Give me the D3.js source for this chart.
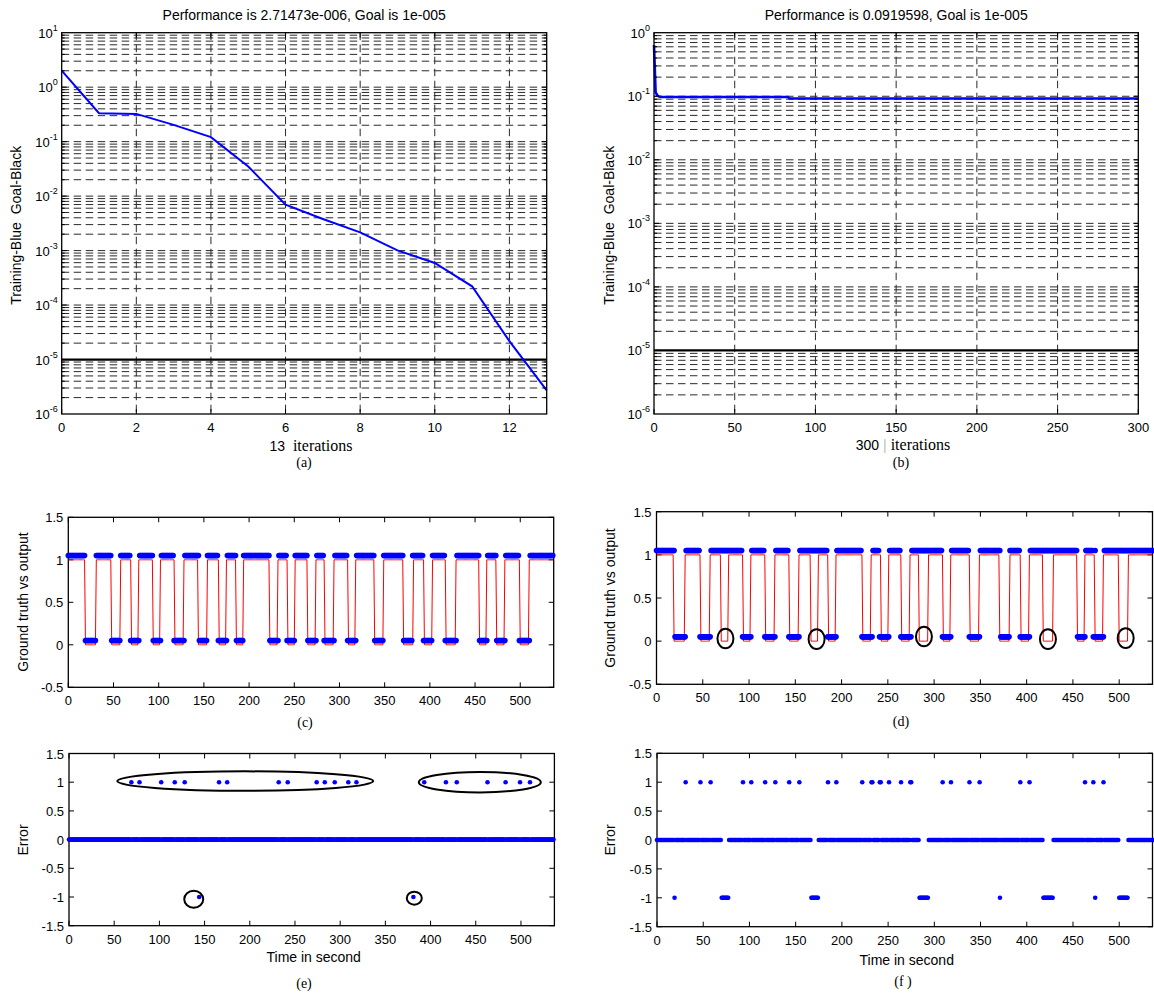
<!DOCTYPE html>
<html><head><meta charset="utf-8">
<script src="https://cdn.jsdelivr.net/npm/d3@7"></script>
<style>
body{margin:0;background:#fff}
svg text{font-family:"Liberation Sans",Arial,sans-serif;fill:#000}
.serif{font-family:"Liberation Serif","Times New Roman",serif}
</style>
</head><body>
<svg id="fig" width="1154" height="994"></svg>
<script>
// ---------------- DATA ----------------
// (a) training performance, 13 iterations
const iterA = [0,1,2,3,4,5,6,7,8,9,10,11,12,13];
const perfA = [2.01,0.333,0.323,0.203,0.121,0.035,0.00695,0.0038,0.00216,0.00101,0.000593,0.000221,2.17e-5,2.71473e-6];
const goalA = 1e-5;
const xTicksA = [0,2,4,6,8,10,12];
const titleA = "Performance is 2.71473e-006, Goal is 1e-005";
// (b) training performance, 300 iterations
const iterB = [0,1,2,3,5,83,84,300];
const perfB = [0.64,0.115,0.104,0.099,0.0975,0.0972,0.0925,0.0919598];
const goalB = 1e-5;
const xTicksB = [0,50,100,150,200,250,300];
const titleB = "Performance is 0.0919598, Goal is 1e-005";
// time samples (seconds)
const lastSample = 536;
// ground truth: intervals where truth = 0 (else 1)
const truthLow = [[19,30],[48,57],[70,77],[94,101],[118,127],[144,153],[167,174],[186,193],[223,231],[243,250],[265,273],[284,293],[310,317],[339,348],[371,381],[394,402],[418,428],[455,462],[474,482],[500,509]];
// output levels as plotted
const outHigh = 1.05, outLow = 0.05;
// (c) output low intervals
const outCLow = [[19,30],[48,57],[69,78],[94,102],[117,128],[145,153],[166,175],[186,193],[223,232],[242,250],[265,274],[283,294],[309,318],[339,348],[371,380],[393,402],[417,429],[455,463],[474,483],[499,510]];
// (d) output low intervals
const outDLow = [[20,31],[47,58],[93,102],[117,128],[143,154],[185,194],[222,233],[241,251],[264,275],[309,318],[338,349],[372,381],[393,403],[455,463],[472,473],[475,483]];
// (e) error samples
const errEUp = [69,78,102,117,128,166,175,232,242,274,283,294,309,318,393,417,429,463,483,499,510];
const errEDown = [144,381];
// (f) error samples
const errFUp = [31,47,58,93,102,117,128,143,154,185,194,222,232,233,241,242,251,264,274,275,309,318,338,349,393,403,463,472,483];
const errFDown = [[19,19],[70,77],[167,174],[284,293],[371,371],[418,428],[474,474],[500,509]];
const xTicksT = [0,50,100,150,200,250,300,350,400,450,500];
const yTicksCD = [-0.5,0,0.5,1,1.5];
const yTicksEF = [-1.5,-1,-0.5,0,0.5,1,1.5];
// annotation marks (data coords)
const markE = [[195,1.02],[454.5,1.0],[138,-1.04],[382,-1.02]];
const markD = [[74.5,0.031],[173,0.023],[289,0.054],[423,0.023],[507,0.035]];

// ---------------- DRAW ----------------
const svg = d3.select("#fig");
const fmt = v => String(v);
const inAny = (t, iv) => iv.some(([a,b]) => t>=a && t<=b);
const samples = d3.range(0, lastSample+1);
const NB = "\u00a0";

function box(g, x0,x1,y0,y1){
  g.append("rect").attr("x",x0).attr("y",y0).attr("width",x1-x0).attr("height",y1-y0)
   .attr("fill","none").attr("stroke","#000").attr("stroke-width",1.3);
}

function logPanel(o){
  const g = svg.append("g");
  const x = d3.scaleLinear().domain(o.xd).range([o.x0,o.x1]);
  const y = d3.scaleLog().domain(o.yd).range([o.y1,o.y0]);
  const e0 = Math.round(Math.log10(o.yd[0])), e1 = Math.round(Math.log10(o.yd[1]));
  const minor = [];
  for(let e=e0;e<e1;e++) for(let k=1;k<=9;k++){ const v=k*Math.pow(10,e); if(!(k===1&&e===e0)) minor.push(v); }
  g.selectAll(null).data(minor).enter().append("line")
    .attr("x1",o.x0).attr("x2",o.x1).attr("y1",d=>y(d)).attr("y2",d=>y(d))
    .attr("stroke","#2a2a2a").attr("stroke-width",1).attr("stroke-dasharray","7.5,4.5");
  g.selectAll(null).data(o.xt.filter(v=>v>o.xd[0]&&v<o.xd[1])).enter().append("line")
    .attr("x1",d=>x(d)).attr("x2",d=>x(d)).attr("y1",o.y0).attr("y2",o.y1)
    .attr("stroke","#2a2a2a").attr("stroke-width",1).attr("stroke-dasharray","7.5,4.5");
  g.append("line").attr("x1",o.x0).attr("x2",o.x1).attr("y1",y(o.goal)).attr("y2",y(o.goal))
    .attr("stroke","#000").attr("stroke-width",2.2);
  g.append("path").datum(o.it.map((v,i)=>[v,o.pf[i]]))
    .attr("d", d3.line().x(d=>x(d[0])).y(d=>y(d[1])))
    .attr("fill","none").attr("stroke","#0000ff").attr("stroke-width",o.lw);
  box(g,o.x0,o.x1,o.y0,o.y1);
  g.selectAll(null).data(o.xt).enter().append("path")
    .attr("d",d=>`M${x(d)},${o.y1}v-5M${x(d)},${o.y0}v5`).attr("stroke","#000").attr("stroke-width",1);
  g.selectAll(null).data(minor).enter().append("path")
    .attr("d",d=>{const L=(Math.abs(Math.log10(d)-Math.round(Math.log10(d)))<1e-9)?5:3;return `M${o.x0},${y(d)}h${L}M${o.x1},${y(d)}h${-L}`;})
    .attr("stroke","#000").attr("stroke-width",1);
  g.selectAll(null).data(o.xt).enter().append("text")
    .attr("x",d=>x(d)).attr("y",o.y1+18).attr("text-anchor","middle").attr("font-size",13).text(fmt);
  const exps = d3.range(e0,e1+1);
  const tl = g.selectAll(null).data(exps).enter().append("text")
    .attr("x",o.x0-4).attr("y",d=>y(Math.pow(10,d))+5).attr("text-anchor","end").attr("font-size",13);
  tl.append("tspan").text("10");
  tl.append("tspan").attr("dy",-7).attr("font-size",9).text(d=>String(d));
  g.append("text").attr("x",(o.x0+o.x1)/2).attr("y",20).attr("text-anchor","middle").attr("font-size",14).text(o.title);
  g.append("text").attr("transform",`translate(${o.ylx},${(o.y0+o.y1)/2+2}) rotate(-90)`)
    .attr("text-anchor","middle").attr("font-size",14).text("Training-Blue"+NB+NB+"Goal-Black");
  return {g,x,y};
}

// (a)
const A = logPanel({x0:61.7,x1:546.7,y0:32.7,y1:414,xd:[0,13],yd:[1e-6,10],xt:xTicksA,goal:goalA,it:iterA,pf:perfA,lw:2,title:titleA,ylx:20.5});
{
  const t = A.g.append("text").attr("x",311).attr("y",451).attr("text-anchor","middle");
  t.append("tspan").attr("font-size",14).text("13"+NB+NB);
  t.append("tspan").attr("class","serif").attr("font-size",16).text("iterations");
  A.g.append("text").attr("class","serif").attr("x",304).attr("y",467).attr("text-anchor","middle").attr("font-size",14).text("(a)");
}
// (b)
const B = logPanel({x0:654,x1:1138.3,y0:32.7,y1:414,xd:[0,300],yd:[1e-6,1],xt:xTicksB,goal:goalB,it:iterB,pf:perfB,lw:2.6,title:titleB,ylx:614});
{
  const t = B.g.append("text").attr("x",903).attr("y",450).attr("text-anchor","middle");
  t.append("tspan").attr("font-size",14).text("300"+NB);
  t.append("tspan").attr("font-size",14).style("fill","#bbb").text("|");
  t.append("tspan").attr("class","serif").attr("font-size",16).text(NB+"iterations");
  B.g.append("text").attr("class","serif").attr("x",901).attr("y",467).attr("text-anchor","middle").attr("font-size",14).text("(b)");
}

function linPanel(o){
  const g = svg.append("g");
  const x = d3.scaleLinear().domain(o.xd).range([o.x0,o.x1]);
  const y = d3.scaleLinear().domain(o.yd).range([o.y1,o.y0]);
  box(g,o.x0,o.x1,o.y0,o.y1);
  g.selectAll(null).data(o.xt).enter().append("path")
    .attr("d",d=>`M${x(d)},${o.y1}v-5M${x(d)},${o.y0}v5`).attr("stroke","#000").attr("stroke-width",1);
  g.selectAll(null).data(o.yt).enter().append("path")
    .attr("d",d=>`M${o.x0},${y(d)}h5M${o.x1},${y(d)}h-5`).attr("stroke","#000").attr("stroke-width",1);
  g.selectAll(null).data(o.xt).enter().append("text")
    .attr("x",d=>x(d)).attr("y",o.y1+18).attr("text-anchor","middle").attr("font-size",13).text(fmt);
  g.selectAll(null).data(o.yt).enter().append("text")
    .attr("x",o.x0-5).attr("y",d=>y(d)+5).attr("text-anchor","end").attr("font-size",13).text(fmt);
  g.append("text").attr("transform",`translate(${o.ylx},${o.yly}) rotate(-90)`)
    .attr("text-anchor","middle").attr("font-size",14).text(o.ylabel);
  if(o.xlabel) g.append("text").attr("x",(o.x0+o.x1)/2+2).attr("y",o.xly).attr("text-anchor","middle").attr("font-size",14).text(o.xlabel);
  g.append("text").attr("class","serif").attr("x",o.capx).attr("y",o.capy).attr("text-anchor","middle").attr("font-size",14).text(o.cap);
  return {g,x,y};
}

function truthOutput(P, outIv){
  P.g.append("path").datum(samples.map(t=>[t, inAny(t,truthLow)?0:1]))
    .attr("d", d3.line().x(d=>P.x(d[0])).y(d=>P.y(d[1])))
    .attr("fill","none").attr("stroke","#ff0000").attr("stroke-width",1);
  P.g.selectAll(null).data(samples.map(t=>[t, inAny(t,outIv)?outLow:outHigh])).enter().append("circle")
    .attr("cx",d=>P.x(d[0])).attr("cy",d=>P.y(d[1])).attr("r",2.8).attr("fill","#0000ff");
}
function errDots(P, errOf){
  P.g.selectAll(null).data(samples.map(t=>[t, errOf(t)])).enter().append("circle")
    .attr("cx",d=>P.x(d[0])).attr("cy",d=>P.y(d[1])).attr("r",2.3).attr("fill","#0000ff");
}

// (c)
const C = linPanel({x0:68.3,x1:553.7,y0:517.3,y1:687.3,xd:[0,537],yd:[-0.5,1.5],xt:xTicksT,yt:yTicksCD,
  ylabel:"Ground truth vs output",ylx:27.5,yly:602,cap:"(c)",capx:305,capy:727});
truthOutput(C, outCLow);
// (d)
const D = linPanel({x0:656.5,x1:1152.5,y0:511.7,y1:684.3,xd:[0,536],yd:[-0.5,1.5],xt:xTicksT,yt:yTicksCD,
  ylabel:"Ground truth vs output",ylx:614.5,yly:598,cap:"(d)",capx:901,capy:726});
truthOutput(D, outDLow);
D.g.selectAll(null).data(markD).enter().append("ellipse")
  .attr("cx",d=>D.x(d[0])).attr("cy",d=>D.y(d[1])).attr("rx",8).attr("ry",9.8)
  .attr("fill","none").attr("stroke","#000").attr("stroke-width",2);
// (e)
const E = linPanel({x0:69,x1:554.4,y0:753.5,y1:925.7,xd:[0,537],yd:[-1.5,1.5],xt:xTicksT,yt:yTicksEF,
  ylabel:"Error",ylx:27.5,yly:840,xlabel:"Time in second",xly:962,cap:"(e)",capx:304,capy:988});
errDots(E, t => errEUp.includes(t)?1:(errEDown.includes(t)?-1:0));
{
  const rr = [[128,9.7],[61,10.2],[9.5,8.5],[7.5,6.5]];
  E.g.selectAll(null).data(markE).enter().append("ellipse")
    .attr("cx",d=>E.x(d[0])).attr("cy",d=>E.y(d[1])).attr("rx",(d,i)=>rr[i][0]).attr("ry",(d,i)=>rr[i][1])
    .attr("fill","none").attr("stroke","#000").attr("stroke-width",2);
}
// (f)
const F = linPanel({x0:657,x1:1152.5,y0:753.3,y1:926.7,xd:[0,536],yd:[-1.5,1.5],xt:xTicksT,yt:yTicksEF,
  ylabel:"Error",ylx:614.5,yly:840,xlabel:"Time in second",xly:965,cap:"(f"+NB+")",capx:903,capy:986});
errDots(F, t => errFUp.includes(t)?1:(inAny(t,errFDown)?-1:0));
</script>
</body></html>
